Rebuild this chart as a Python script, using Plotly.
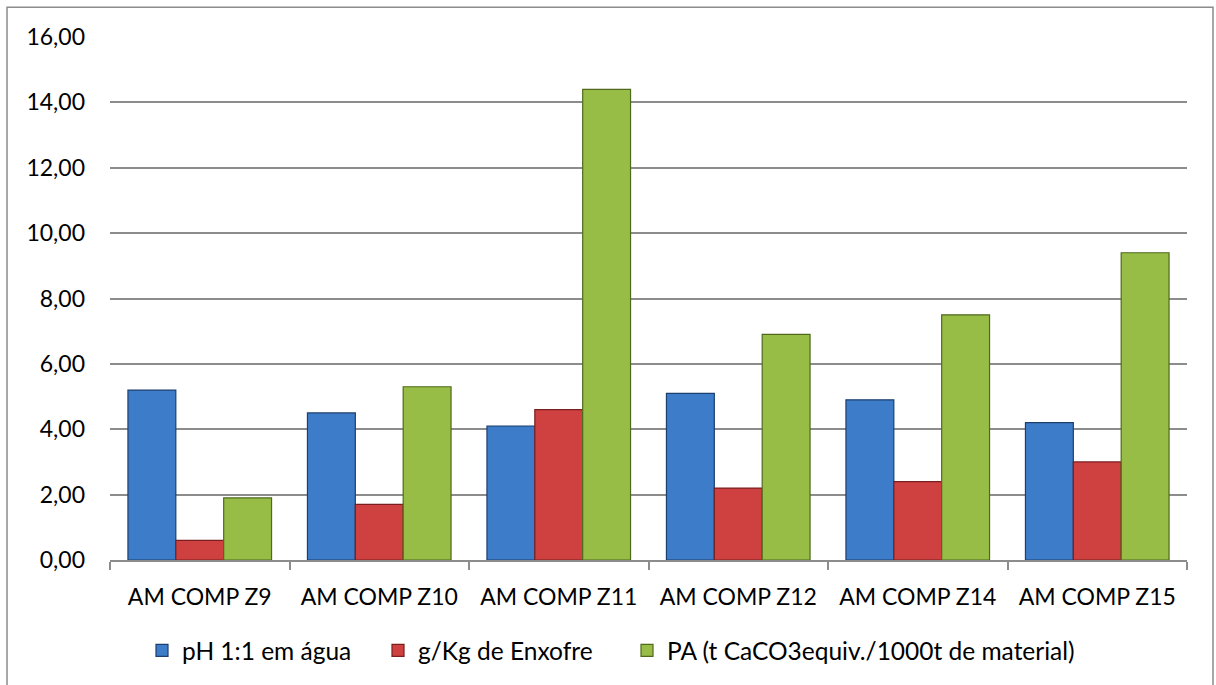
import plotly.graph_objects as go

categories = ["AM COMP Z9", "AM COMP Z10", "AM COMP Z11", "AM COMP Z12", "AM COMP Z14", "AM COMP Z15"]
ph_agua = [5.2, 4.5, 4.1, 5.1, 4.9, 4.2]
enxofre = [0.6, 1.7, 4.6, 2.2, 2.4, 3.0]
pa_caco3 = [1.9, 5.3, 14.4, 6.9, 7.5, 9.4]
series_names = ["pH 1:1 em água", "g/Kg de Enxofre", "PA (t CaCO3equiv./1000t de material)"]
tick_vals = [0, 2, 4, 6, 8, 10, 12, 14, 16]
tick_text = ["0,00", "2,00", "4,00", "6,00", "8,00", "10,00", "12,00", "14,00", "16,00"]

FONT = "Lato, Calibri, Carlito, sans-serif"
fills = ["#3d7cc9", "#cf4141", "#97bd46"]
edges = ["#1d3f6e", "#7a1f1f", "#4f6a1c"]
legend_ids = ["legend", "legend2", "legend3"]

fig = go.Figure()
for name, vals, fc, ec, lg in zip(series_names, [ph_agua, enxofre, pa_caco3], fills, edges, legend_ids):
    fig.add_trace(go.Bar(x=categories, y=vals, name=name, legend=lg,
                         marker=dict(color=fc, line=dict(color=ec, width=1.2))))

L, R, T, B = 110, 29, 37, 122
W, H = 1216, 685
pw, ph = W - L - R, H - T - B

def px_to_x(px):
    return (px - L) / pw

def py_to_y(py):
    return (T + ph - py) / ph

# legend positions (left pixel of each legend box)
leg_px = [142, 378, 627]
legends = {}
for lg, px in zip(legend_ids, leg_px):
    legends[lg] = dict(orientation="h", x=px_to_x(px), xanchor="left", y=py_to_y(654), yanchor="middle",
                       font=dict(size=24.5, family=FONT), bgcolor="rgba(0,0,0,0)", borderwidth=0)

fig.update_layout(
    width=W, height=H,
    margin=dict(l=L, r=R, t=T, b=B, pad=0),
    paper_bgcolor="white", plot_bgcolor="white",
    barmode="group", bargap=0.2, bargroupgap=0,
    font=dict(family=FONT, size=23, color="black"),
    showlegend=True,
    shapes=[dict(type="rect", xref="paper", yref="paper",
                 x0=px_to_x(7), x1=px_to_x(1213),
                 y0=py_to_y(700), y1=py_to_y(7),
                 line=dict(color="#8c8c8c", width=1.5), fillcolor="rgba(0,0,0,0)", layer="below")],
    **legends,
)
fig.update_yaxes(range=[0, 16], tickvals=tick_vals, ticktext=tick_text,
                 showgrid=True, gridcolor="#8c8c8c", gridwidth=1.5,
                 showline=False, zeroline=False, ticks="", ticklabelstandoff=24,
                 tickfont=dict(size=23))
fig.update_xaxes(showline=True, linecolor="#8c8c8c", linewidth=1.5,
                 ticks="outside", tickson="boundaries", ticklen=8, tickcolor="#8c8c8c", tickwidth=1.5,
                 ticklabelstandoff=16, tickfont=dict(size=23), showgrid=False)

fig.write_html("out.html")
